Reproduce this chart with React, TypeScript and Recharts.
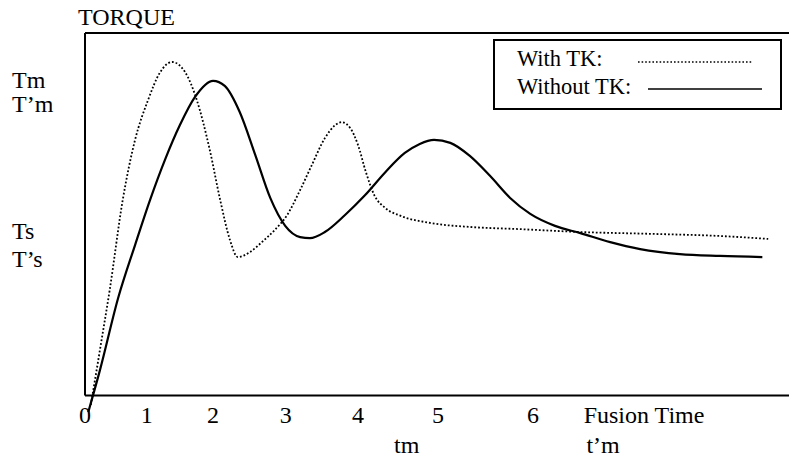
import React from 'react';
import { LineChart, Line, XAxis, YAxis, ReferenceLine, Legend } from 'recharts';

// t = fusion time (axis units), v = torque (axis units)
const withTK = [
  { t: 0.09, v: -0.26 }, { t: 0.23, v: 1.26 }, { t: 0.38, v: 2.91 }, { t: 0.58, v: 5.39 },
  { t: 0.77, v: 7.05 }, { t: 0.97, v: 8.15 }, { t: 1.15, v: 8.9 }, { t: 1.34, v: 9.2 },
  { t: 1.54, v: 8.92 }, { t: 1.72, v: 8.15 }, { t: 1.92, v: 6.77 }, { t: 2.08, v: 5.39 },
  { t: 2.23, v: 4.29 }, { t: 2.35, v: 3.82 }, { t: 2.54, v: 3.96 }, { t: 2.72, v: 4.23 },
  { t: 2.92, v: 4.57 }, { t: 3.11, v: 4.98 }, { t: 3.31, v: 5.67 }, { t: 3.49, v: 6.36 },
  { t: 3.69, v: 7.1 }, { t: 3.85, v: 7.46 }, { t: 3.95, v: 7.54 }, { t: 4.08, v: 7.38 },
  { t: 4.2, v: 6.91 }, { t: 4.32, v: 6.17 }, { t: 4.45, v: 5.53 }, { t: 4.62, v: 5.17 },
  { t: 4.85, v: 4.96 }, { t: 5.31, v: 4.76 }, { t: 5.92, v: 4.65 }, { t: 6.69, v: 4.59 },
  { t: 7.62, v: 4.51 }, { t: 8.69, v: 4.46 }, { t: 9.77, v: 4.4 }, { t: 10.51, v: 4.32 },
];

const withoutTK = [
  { t: 0.05, v: -0.46 }, { t: 0.23, v: 0.7 }, { t: 0.51, v: 2.69 }, { t: 0.77, v: 4.15 },
  { t: 1.0, v: 5.39 }, { t: 1.23, v: 6.5 }, { t: 1.46, v: 7.46 }, { t: 1.69, v: 8.23 },
  { t: 1.97, v: 8.68 }, { t: 2.15, v: 8.54 }, { t: 2.38, v: 7.82 }, { t: 2.62, v: 6.63 },
  { t: 2.85, v: 5.45 }, { t: 3.08, v: 4.68 }, { t: 3.31, v: 4.37 }, { t: 3.46, v: 4.34 },
  { t: 3.69, v: 4.51 }, { t: 4.0, v: 4.98 }, { t: 4.31, v: 5.53 }, { t: 4.62, v: 6.16 },
  { t: 4.92, v: 6.69 }, { t: 5.15, v: 6.94 }, { t: 5.37, v: 7.05 }, { t: 5.62, v: 6.97 },
  { t: 5.92, v: 6.61 }, { t: 6.23, v: 6.06 }, { t: 6.54, v: 5.45 }, { t: 6.85, v: 5.01 },
  { t: 7.23, v: 4.68 }, { t: 7.62, v: 4.48 }, { t: 8.08, v: 4.23 }, { t: 8.54, v: 4.04 },
  { t: 9.15, v: 3.9 }, { t: 9.77, v: 3.85 }, { t: 10.42, v: 3.82 },
];

const seriesNames = ['With TK:', 'Without TK:'];

const xTicks = [0, 0.95, 1.97, 3.09, 4.2, 5.43, 6.89, 8.6];
const xTickLabels = ['0', '1', '2', '3', '4', '5', '6', 'Fusion Time'];
const subTicks = [4.95, 7.97];
const subTickLabels = ['tm', 't\u2019m'];
const yTicks = [8.69, 8.03, 4.53, 3.76];
const yTickLabels = ['Tm', 'T\u2019m', 'Ts', 'T\u2019s'];

const FONT = '"Liberation Serif", "Times New Roman", serif';

const XTick = (props: any) => {
  const { x, y, payload } = props;
  const i = xTicks.indexOf(payload.value);
  const sub = i < 0;
  const label = sub ? subTickLabels[subTicks.indexOf(payload.value)] : xTickLabels[i];
  return (
    <text x={x} y={y + (sub ? 39 : 9)} textAnchor="middle" fontSize={24} fontFamily={FONT} fill="#000">
      {label}
    </text>
  );
};

const YTick = (props: any) => {
  const { x, y, payload } = props;
  const label = yTickLabels[yTicks.indexOf(payload.value)];
  return (
    <text x={x - 73} y={y + 8} textAnchor="start" fontSize={24} fontFamily={FONT} fill="#000">
      {label}
    </text>
  );
};

const TorqueLabel = (props: any) => {
  const vb = props.viewBox;
  return (
    <text x={vb.x + vb.width - 7} y={vb.y - 8} fontSize={24} fontFamily={FONT} fill="#000">
      TORQUE
    </text>
  );
};

const LegendBox = () => {
  const sampleFrom = [145, 155];
  const sampleTo = [260, 269];
  return (
    <svg width={289} height={71} style={{ display: 'block' }}>
      <rect x={1} y={1} width={287} height={69} fill="#fff" stroke="#000" strokeWidth={2} />
      {seriesNames.map((name, i) => (
        <g key={name}>
          <text x={24} y={27 + i * 28} fontSize={22.5} fontFamily={FONT} fill="#000">
            {name}
          </text>
          <line
            x1={sampleFrom[i]}
            x2={sampleTo[i]}
            y1={23 + i * 27}
            y2={23 + i * 27}
            stroke="#000"
            strokeWidth={1.6}
            strokeDasharray={i === 0 ? '1.6 2' : undefined}
          />
        </g>
      ))}
    </svg>
  );
};

const App: React.FC = () => {
  return (
    <div style={{ position: 'absolute', left: 0, top: 0, background: '#fff' }}>
      <LineChart width={789} height={458} margin={{ top: 33, right: 0, bottom: 0, left: 0 }}>
        <XAxis
          dataKey="t"
          type="number"
          domain={[0, 10.83]}
          ticks={[...xTicks, ...subTicks]}
          interval={0}
          axisLine={false}
          tickLine={false}
          tickSize={0}
          tickMargin={0}
          height={44}
          tick={XTick}
        />
        <YAxis
          type="number"
          domain={[-0.51, 10]}
          ticks={yTicks}
          interval={0}
          width={85}
          axisLine={false}
          tickLine={false}
          tickSize={0}
          tickMargin={0}
          tick={YTick}
          label={{ value: 'TORQUE', content: TorqueLabel }}
        />
        <ReferenceLine y={0} stroke="#000" strokeWidth={2} />
        <ReferenceLine y={10} stroke="#000" strokeWidth={2} />
        <ReferenceLine segment={[{ x: 0, y: 0 }, { x: 0, y: 10 }]} stroke="#000" strokeWidth={2} />
        <Legend
          layout="horizontal"
          verticalAlign="middle"
          align="center"
          wrapperStyle={{ left: 493, top: 39, width: 289, height: 71 }}
          content={LegendBox}
        />
        <Line
          data={withTK}
          dataKey="v"
          name={seriesNames[0]}
          type="monotone"
          stroke="#000"
          strokeWidth={1.8}
          strokeDasharray="1.8 2"
          dot={false}
          isAnimationActive={false}
        />
        <Line
          data={withoutTK}
          dataKey="v"
          name={seriesNames[1]}
          type="monotone"
          stroke="#000"
          strokeWidth={2.2}
          dot={false}
          isAnimationActive={false}
        />
      </LineChart>
    </div>
  );
};

export default App;
